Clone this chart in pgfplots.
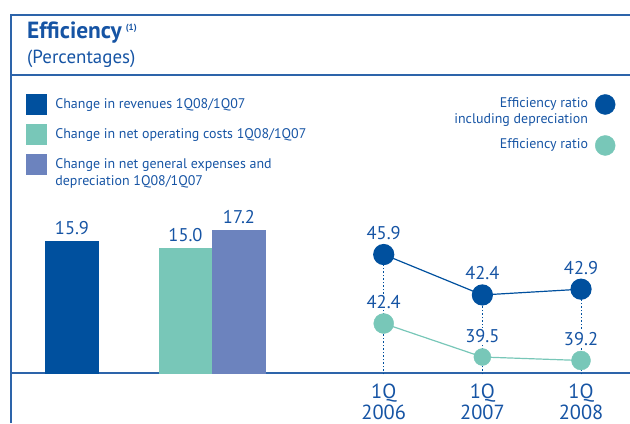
\documentclass[border=0pt]{standalone}
\usepackage{pgfplots}
\pgfplotsset{compat=1.18}
\usepackage{fontspec}
\setmainfont{PT Sans}

\definecolor{kdark}{RGB}{0,80,158}
\definecolor{kteal}{RGB}{120,199,184}
\definecolor{kviolet}{RGB}{108,131,190}
\definecolor{ktext}{RGB}{22,84,164}
\definecolor{krule}{RGB}{45,100,170}

% legend texts: smashed so that every row sits on its first baseline
\newcommand\lgl[1]{\smash{\color{ktext}\begin{tabular}[t]{@{}l@{}}#1\end{tabular}}}
\newcommand\lgr[1]{\smash{\color{ktext}\begin{tabular}[t]{@{}r@{}}#1\end{tabular}}}

\pgfplotsset{
  sq/.style={legend image code/.code={\fill[#1] (0bp,-5bp) rectangle (20bp,15bp); \path[draw=none] (0bp,-14.5bp) -- (0bp,14.5bp);}},
  dot/.style={legend image code/.code={\fill[#1] (10bp,4bp) circle (10bp); \path[draw=none] (0bp,-20.5bp) -- (0bp,20.5bp);}},
  vlab/.style={nodes near coords,
    every node near coord/.append style={/pgf/number format/fixed, /pgf/number format/fixed zerofill,
      /pgf/number format/precision=1, /pgf/number format/assume math mode=true,
      anchor=base, yshift=#1, inner sep=1pt,
      text=ktext, font=\fontsize{18.5}{22}\selectfont}},
}

\begin{document}
\begin{tikzpicture}[x=1bp,y=1bp]

% frame
\draw[krule, line width=1.3bp] (11,0) -- (11,408) -- (630,408);
\draw[krule, line width=1.3bp] (11,348) -- (630,348);
\draw[krule, line width=1.3bp] (11,50) -- (630,50);

\node[anchor=base west, inner sep=0, text=ktext, font=\fontsize{23.5}{26}\selectfont\bfseries]
  at (27,385) {Efficiency\,\raisebox{8bp}{\fontsize{9}{10}\selectfont(1)}};
\node[anchor=base west, inner sep=0, text=ktext, font=\fontsize{19}{22}\selectfont]
  at (27,360) {(Percentages)};

% bars, x in picture units (the anchor lands 8bp off, so at= is corrected by hand)
\begin{axis}[at={(11,58)}, anchor=south west, scale only axis,
  width=319bp, height=168bp, xmin=11, xmax=330, ymin=0, ymax=20,
  hide axis, clip=false,
  ybar, bar width=54bp, bar shift=0pt,
  legend cell align=left,
  legend style={at={(0.047,1.6667)}, anchor=north west, draw=none, fill=none,
    inner sep=0pt, outer sep=0pt, row sep=0pt, column sep=9bp,
    font=\fontsize{14}{17}\selectfont, nodes={inner sep=0pt}}]
\addplot[fill=kdark, draw=none, forget plot, vlab=6.5bp] coordinates {(72,15.9)};
\addplot[fill=kteal, draw=none, forget plot, vlab=6.5bp] coordinates {(185.5,15.0)};
\addplot[fill=kviolet, draw=none, forget plot, vlab=6.5bp] coordinates {(239,17.2)};
\addlegendimage{sq=kdark}
\addlegendentry{\lgl{Change in revenues 1Q08/1Q07}}
\addlegendimage{sq=kteal}
\addlegendentry{\lgl{Change in net operating costs 1Q08/1Q07}}
\addlegendimage{sq=kviolet}
\addlegendentry{\lgl{Change in net general expenses and\\depreciation 1Q08/1Q07}}
\end{axis}

% efficiency ratio including depreciation
\begin{axis}[at={(339,42)}, anchor=south west, scale only axis,
  width=291bp, height=150bp, xmin=-0.5, xmax=2.45, ymin=35.52, ymax=48.50,
  clip=false, hide y axis, axis line style={draw=none}, major tick length=0pt,
  xtick={0,1,2}, xticklabels={1Q\\2006,1Q\\2007,1Q\\2008},
  xticklabel style={align=center, text=ktext, font=\fontsize{20.5}{21}\selectfont, inner sep=0pt, yshift=-9bp},
  legend cell align=right, legend plot pos=right,
  legend style={at={(0.9656,1.91)}, anchor=north east, draw=none, fill=none,
    inner sep=0pt, outer sep=0pt, row sep=0pt, column sep=7bp,
    font=\fontsize{14}{16}\selectfont, nodes={inner sep=0pt}}]
\addplot[kdark, line width=0.9bp, dash pattern=on 1.5bp off 2bp, forget plot] coordinates {(0,35.52) (0,45.9)};
\addplot[kdark, line width=0.9bp, dash pattern=on 1.5bp off 2bp, forget plot] coordinates {(1,35.52) (1,42.4)};
\addplot[kdark, line width=0.9bp, dash pattern=on 1.5bp off 2bp, forget plot] coordinates {(2,35.52) (2,42.9)};
\addplot[kdark, line width=1.2bp, mark=*, mark size=10bp, mark options={draw=none, fill=kdark},
  forget plot, vlab=15bp] coordinates {(0,45.9) (1,42.4) (2,42.9)};
\addlegendimage{dot=kdark}
\addlegendentry{\lgr{Efficiency ratio\\including depreciation}}
\addlegendimage{dot=kteal}
\addlegendentry{\lgr{Efficiency ratio}}
\end{axis}

% efficiency ratio
\begin{axis}[at={(339,42)}, anchor=south west, scale only axis,
  width=291bp, height=150bp, xmin=-0.5, xmax=2.45, ymin=37.99, ymax=50.97,
  clip=false, hide axis]
\addplot[kteal, line width=1.2bp, vlab=15bp,
  every node near coord/.append style={fill=white}] coordinates {(0,42.4) (1,39.5) (2,39.2)};
\addplot[kteal, only marks, mark=*, mark size=10bp, mark options={draw=none, fill=kteal}] coordinates {(0,42.4)};
\addplot[kteal, only marks, mark=*, mark size=8.5bp, mark options={draw=none, fill=kteal}] coordinates {(1,39.5)};
\addplot[kteal, only marks, mark=*, mark size=9.5bp, mark options={draw=none, fill=kteal}] coordinates {(2,39.2)};
\end{axis}

\pgfresetboundingbox
\path[use as bounding box] (0,0) rectangle (630,423);
\end{tikzpicture}
\end{document}
